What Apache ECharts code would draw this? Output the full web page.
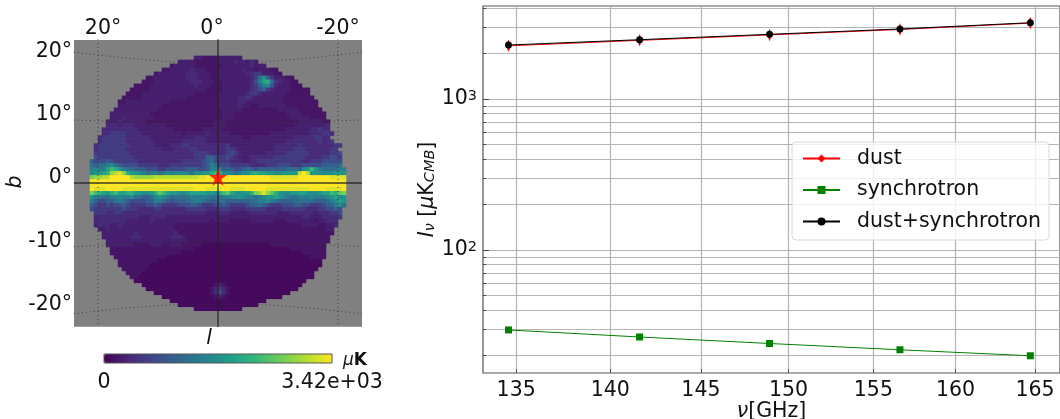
<!DOCTYPE html>
<html><head><meta charset="utf-8">
<style>html,body{margin:0;padding:0;background:#fff}#c{width:1060px;height:419px}</style>
<script src="https://cdn.jsdelivr.net/npm/echarts@6/dist/echarts.min.js"></script>
</head><body><div id="c"></div>
<script>
const FONT = 'DejaVu Sans';
const mapMax = 3420;
const levels = 'abcdefghijklmnopqrst';
const levelValues = [90,190,290,420,600,800,1030,1240,1440,1640,1800,1980,2150,2330,2530,2700,2870,3060,3250,3420];
const mapRows = [
"","","","",
"..............................ccbbbbcccccc",
"..........................ccccbbbbbbccccdcdcdc",
"........................bcccccbbbbbbbcccccccdccc",
"......................bbcccccdcccbbbccccccdccbcccbb",
"....................bcccccccdddcccbbcccccccddeecccbb",
"..................bbccccccccdddcccbbccccccccdehkgecccbb",
".................bbbcccccccccdddcccbbcccccccdfilmhedccbb",
"...............bbbbcccccccccccdcccbbbcccccccdegijgdcccbbb",
"..............bbbbbccccccccccccccbbbbcccccccdefgedccccbbbbb",
".............bbbbcccccccccccccbbbbbbcccccccdeedccccccbbbbbb",
"............bbbbbcccccccccccbbbbbbbbcccccddedcccccccbbbbbbbb",
"...........bbcccccccccccbbbbbbbbbbbbcccccddcccccccccbbbbbbbbb",
"...........cccccccccccbbbbbbbbbbbbbbcccccdccbbcccccccbbbbbbbb",
"..........cccccccccccbbbbbbbbbbbbbbbbcccccbbbbbbbbbcccccbbbbbb",
".........ccccccccccbbbbbbbbbbbbbbbbbbcccbbbbbbbbbbbbbccccbbbbbb",
".........cccdcccccccbbbbbbbbbbbbbbbbbcccbbbbbbbbbbbbbbcccccbbbb",
"........cccdccccccbbbbbbbbbbbbbbbbbcccbbbbbbbbbbbbbbbbbbccccccbb",
"........dddcdddccccccccbbbbbbbbbbbbcccbbbbbbbbbbbbbbbbbccccccccd",
".......dddddddddcccccccccbbbbbbbcccccbbbbbbbbbbbbbbbbccccccddedd",
".......ddeeeeddddccccccccccbcccccdcccccbbbbbbbbbbccccccccccdddeed",
"......deeeeeeddddddcccccccccccdddcccccccccbbcccccccccccdddddeedd",
"......deeeeeedddddddcccccccddddddccccccccccccccccccccddddddddedde",
".....deeeeeeeeddddddccccdddeedddddddddecccccccccccddddddeddddddddee",
".....deeeeeeedddddddddcccddddeedddddddeedcccccccccdddddeeeddddddee",
".....eeeeeeeeeddddddddddddddddeeeeddddefedccccccdddddeeeeeedddddeef",
".....feeeeeeeeedddddddddddddddeeeggfeefedcccddddddeeeeeeeeddddeeffe",
"....gfffgfeeeeeedddddddddddeeeeefghfeeedddccddeeeeeeeeeeeddeeefffff",
"....hghhijhgffffeeeeedddeeeeeeeefgihfffeeeeeddddeeefffeeefffffggggh",
"....ijiilnmkihhgggfffeefffffgggffgiiigggffghgfggggggghhhgjknkihhhhii",
"....jkklmqrsqmkkjihiihijijjjihjjkkmnmjjihijjlmllkkjjkkkkrtrkkjjjjkkk",
"....pqqrrtttttrqqqqqrrrrrrrrrrrsststtttttttttttttsssssssttttttttssss",
"....tttttttttttttttttttttttttttttttttttttttttttttttttttttttttttttttt",
"....tttttttttttttttttttttttttttttttttttttttttttttttttttttttttttttttt",
"....tsssttttsssssssssssssssssstttssssttsssstttttsssssssssssttttsssst",
"....pnmlkmnllmmkkjjkmonlkkjjkllllkkjlnolkjkkmpqsqomkjjkkllkjjkllnmop",
"....kiihhiijiijhhgghjkjihhhhhiiiiihhhiijjkjiihijkklkjihhiiijiiijkljk",
"....igffgghihgffffggiihgfggghhiihggghhgggggghhiijihgggghhhhhggghijlk",
"....gfeefeffgfeeeeffgfeeeefffggfeeeffgfeeeefgghgfeeefffggffeeefggijh",
"....feeeeeeefeeeddddeeddddddeeeeedddeeeddddeeeeeddddeeeeeedddeeffgf",
".....eeeddeedddddddddddddddddddddcccdddcccccdddddddcccddddddcdddeef",
".....dddddddddddcccddddccccccccccccccccccccccccccccccccccddcccdddde",
".....ddddddddccccccdccccccccccccccbccccbbbbbccccccbbbcccccccbccddd",
".....cdddccdcccccccccccccbbbbbbbbbbbbbbbbbbbbbbbbbbbbbbbbccccbbccd",
"......ccdccccccccccccccccbbbbbbbbbbbbbbbbbbbbbbbbbbbbbbbbbbbbbbcc",
".......ccccccccdcccccccccdbbbbbbbbbbbbbbbbbbbbbbbbbbbbbbbbbbbbbbb",
".......cccccccdddcccccccdddcbbbbbbbbbbbbbbbbbbbbbbbbbbbbbbbbbbbb",
"........ccccccccccccccccccccbbbbbbbbbbbbbbbbbbbbbbbbbbbbbbbbbbbb",
"........cccccccbbbbcccbbcccbbbbbaaaaaaaaaaaaaaaaabbbbbbbbbbbbbb",
".........bbbbbbbbbbbbbbbbbbbbbaaaaaaaaaaaaaaaaaaaaaaaabbbbbbbbb",
".........bbbbbbbbbbbbbbbbbbaaaaaaaaaaaaaaaaaaaaaaaaaaaaaabbbbbb",
"..........bbbbbbbbbbbbbaaaaaaaaaaaaaaaaaaaaaaaaaaaaaaaaaaaabbbb",
"...........bbbbbbbbbbaaaaaaaaaaaaaaaaaaaaaaaaaaaaaaaaaaaaaaaaa",
"...........bbbbbbbbaaaaaaaaaaaaaaaaaaaaaaaaaaaaaaaaaaaaaaaaaaa",
"............bbbbbbaaaaaaaaaaaaaaaaaaaaaaaaaaaaaaaaaaaaaaaaaaa",
".............bbbbaaaaaaaaaaaaaaaaaaaaaaaaaaaaaaaaaaaaaaaaaaa",
"..............bbaaaaaaaaaaaaaaaaaaaaaaaaaaaaaaaaaaaaaaaaaaaa",
"...............aaaaaaaaaaaaaaaaaaaaaaaaaaaaaaaaaaaaaaaaaaa",
".................aaaaaaaaaaaaaaaaaabcbaaaaaaaaaaaaaaaaaaa",
"..................aaaaaaaaaaaaaaaabdedbaaaaaaaaaaaaaaaaa",
"....................aaaaaaaaaaaaaabdfdbaaaaaaaaaaaaaaa",
"......................aaaaaaaaaaaaabcbaaaaaaaaaaaaaa",
"........................aaaaaaaaaaaaaaaaaaaaaaaa",
"..........................aaaaaaaaaaaaaaaaaaaa",
"..............................aaaaaaaaaaaa",
"","","",""
];
const viridis = ['#440154','#482878','#3e4989','#31688e','#26828e','#1f9e89','#35b779','#6ece58','#b5de2b','#fde725'];

const lonTickLabels = ['20°','0°','-20°'];
const latTickLabels = ['20°','10°','0°','-10°','-20°'];
const cbLabels = ['0','3.42e+03'];

const graticuleLat20  = [[24,21.8],[16,20.9],[8,20.2],[0,20],[-8,20.2],[-16,20.9],[-24,21.8]];
const graticuleLat10  = [[24,10.5],[12,10.1],[0,10],[-12,10.1],[-24,10.5]];
const graticuleLatM10 = [[24,-10.6],[12,-10],[0,-9.9],[-12,-10],[-24,-10.6]];
const graticuleLatM20 = [[24,-21.8],[16,-20.9],[8,-20.3],[0,-20.2],[-8,-20.3],[-16,-20.9],[-24,-21.8]];
const graticuleLonP20 = [[20,24],[20,-24]];
const graticuleLonM20 = [[-20,24],[-20,-24]];
const crossV = [[0,24],[0,-24]];
const crossH = [[24,0],[-24,0]];
const starPos = [[0,1]];

const freqs = [134.6,141.6,148.9,156.6,164.7];
const dust = [2250,2445,2658,2887,3181];
const sync = [29.5,26.5,24.0,21.8,19.9];
const total = [2278,2470,2682,2909,3201];
const xTicks = [135,140,145,150,155,160,165];
const yMajor = [100,1000];
const yMinor = [20,30,40,50,60,70,80,90,100,200,300,400,500,600,700,800,900,1000,2000,3000,4000];

const cells = [];
mapRows.forEach((row,j)=>{ for(let k=0;k<row.length;k++){ const l=levels.indexOf(row[k]); if(l>=0) cells.push([k,j,levelValues[l]]); } });
const cats = Array.from({length:72},(_,i)=>i);
const zipXY = (xs,ys)=>xs.map((x,i)=>[x,ys[i]]);

const dotted = d=>({type:'line',xAxisIndex:1,yAxisIndex:1,data:d,symbol:'none',silent:true,smooth:false,z:5,lineStyle:{color:'#303030',width:1,type:[1,3],opacity:.85}});
const solid = d=>({type:'line',xAxisIndex:1,yAxisIndex:1,data:d,symbol:'none',silent:true,z:6,lineStyle:{color:'#222',width:1.4,opacity:.85}});
const TS = 20.5;
const txt = (t,x,y,align)=>({type:'text',x,y,z:20,style:{text:t,fill:'#111',font:TS+'px "'+FONT+'"',textAlign:align||'center',textVerticalAlign:'middle'}});

const option = {
 animation:false,
 textStyle:{fontFamily:FONT},
 grid:[
  {left:74,top:40,width:288,height:286.7,show:true,backgroundColor:'#808080',borderWidth:0,outerBoundsMode:'none'},
  {left:74,top:40,width:288,height:286.7,show:false,outerBoundsMode:'none'},
  {left:483,top:6,right:0,height:367,show:true,borderColor:'#555',borderWidth:1.2,outerBoundsMode:'none'}
 ],
 xAxis:[
  {type:'category',gridIndex:0,data:cats,show:false},
  {type:'value',gridIndex:1,min:-24,max:24,inverse:true,show:false},
  {type:'log',gridIndex:2,min:133.28,max:166.6,logBase:10,
   axisLine:{show:false},
   axisTick:{show:true,customValues:xTicks,inside:true,length:4,lineStyle:{color:'#555'}},
   axisLabel:{customValues:xTicks,fontSize:TS,color:'#111',margin:7,fontFamily:FONT,formatter:v=>String(Math.round(v))},
   splitLine:{show:true,lineStyle:{color:'#b4b4b4',width:1.2}},
   name:'{i|ν}[GHz]',nameLocation:'middle',nameGap:28,nameMoveOverlap:false,
   nameTextStyle:{fontSize:TS,color:'#111',fontFamily:FONT,rich:{i:{fontStyle:'italic',fontSize:TS,fontFamily:FONT,color:'#111'}}}
  }
 ],
 yAxis:[
  {type:'category',gridIndex:0,data:cats,inverse:true,show:false},
  {type:'value',gridIndex:1,min:-23.95,max:23.83,show:false},
  {type:'log',gridIndex:2,min:15.3,max:4130,logBase:10,
   axisLine:{show:false},
   axisTick:{show:true,customValues:yMinor,inside:true,length:3,lineStyle:{color:'#444'}},
   axisLabel:{customValues:yMajor,fontSize:TS,color:'#111',margin:6,fontFamily:FONT,
    formatter:v=>'10{s|'+Math.round(Math.log10(v))+'}',
    rich:{s:{fontSize:14.5,verticalAlign:'top',padding:[0,0,6,0],fontFamily:FONT,color:'#111'}}},
   splitLine:{show:true,lineStyle:{color:'#b4b4b4',width:1.2}},
   name:'{i|I}{s|ν} [{i|μ}K{s|CMB}]',nameLocation:'middle',nameRotate:90,nameGap:45,nameMoveOverlap:false,
   nameTextStyle:{fontSize:TS,color:'#111',fontFamily:FONT,
    rich:{i:{fontStyle:'italic',fontSize:TS,fontFamily:FONT,color:'#111'},
          s:{fontStyle:'italic',fontSize:14.5,verticalAlign:'bottom',padding:[6,0,0,0],fontFamily:FONT,color:'#111'}}}
  },
  {type:'log',gridIndex:2,min:15.3,max:4130,logBase:10,position:'left',
   axisLine:{show:false},axisLabel:{show:false},splitLine:{show:false},
   axisTick:{show:true,customValues:yMajor,inside:true,length:6,lineStyle:{color:'#444'}}}
 ],
 visualMap:{type:'continuous',seriesIndex:0,min:0,max:mapMax,orient:'horizontal',left:104,top:354,itemWidth:9,itemHeight:228,padding:0,
  text:null,showLabel:false,calculable:false,realtime:false,hoverLink:false,inRange:{color:viridis}},
 legend:{show:true,data:['dust','synchrotron','dust+synchrotron'],orient:'vertical',left:792,top:142,
  itemWidth:37,itemHeight:10,itemGap:10.5,padding:[6,8,8,10],backgroundColor:'rgba(255,255,255,0.8)',borderColor:'#d8d8d8',borderWidth:1,borderRadius:4,
  textStyle:{fontSize:TS,color:'#111',fontFamily:FONT,padding:[0,0,0,12]}},
 graphic:{elements:[
  txt(lonTickLabels[0],103,29),txt(lonTickLabels[1],212,29),txt(lonTickLabels[2],338,29),
  txt(latTickLabels[0],72,52,'right'),txt(latTickLabels[1],72,115,'right'),txt(latTickLabels[2],72,178,'right'),txt(latTickLabels[3],72,242,'right'),txt(latTickLabels[4],72,305,'right'),
  {type:'text',x:16,y:182,rotation:Math.PI/2,z:20,style:{text:'b',fill:'#111',font:'italic '+TS+'px "'+FONT+'"',textAlign:'center',textVerticalAlign:'middle'}},
  {type:'text',x:209,y:339,z:20,style:{text:'l',fill:'#111',font:'italic '+TS+'px "'+FONT+'"',textAlign:'center',textVerticalAlign:'middle'}},
  {type:'rect',z:20,shape:{x:104,y:354,width:228,height:9},style:{fill:'none',stroke:'#555',lineWidth:1}},
  txt(cbLabels[0],104,383),txt(cbLabels[1],332,383),
  {type:'text',x:343,y:361,z:20,style:{text:'{a|μ}{b|K}',fill:'#111',textVerticalAlign:'middle',rich:{a:{fontStyle:'italic',fontSize:17,fontFamily:FONT,fill:'#111'},b:{fontWeight:'bold',fontSize:17,fontFamily:FONT,fill:'#111'}}}}
 ]},
 series:[
  {type:'heatmap',xAxisIndex:0,yAxisIndex:0,data:cells,silent:true,progressive:0,z:2},
  dotted(graticuleLat20),dotted(graticuleLat10),dotted(graticuleLatM10),dotted(graticuleLatM20),dotted(graticuleLonP20),dotted(graticuleLonM20),
  solid(crossV),solid(crossH),
  {type:'scatter',xAxisIndex:1,yAxisIndex:1,data:starPos,symbol:'path://M50 0L61 35L98 35L68 57L79 91L50 70L21 91L32 57L2 35L39 35Z',symbolSize:[18,18],itemStyle:{color:'#ff0000'},silent:true,z:8},
  {name:'dust',type:'line',xAxisIndex:2,yAxisIndex:2,data:zipXY(freqs,dust),symbol:'diamond',symbolSize:[5,12.5],color:'#ff0000',lineStyle:{width:1,color:'#ff0000'},itemStyle:{color:'#ff0000'},z:5},
  {name:'synchrotron',type:'line',xAxisIndex:2,yAxisIndex:2,data:zipXY(freqs,sync),symbol:'rect',symbolSize:7,color:'#008000',lineStyle:{width:1,color:'#008000'},itemStyle:{color:'#008000'},z:6},
  {name:'dust+synchrotron',type:'line',xAxisIndex:2,yAxisIndex:2,data:zipXY(freqs,total),symbol:'circle',symbolSize:7,color:'#000',lineStyle:{width:1,color:'#000'},itemStyle:{color:'#000'},z:7}
 ]
};
echarts.init(document.getElementById('c'),null,{renderer:'canvas'}).setOption(option);
</script></body></html>
